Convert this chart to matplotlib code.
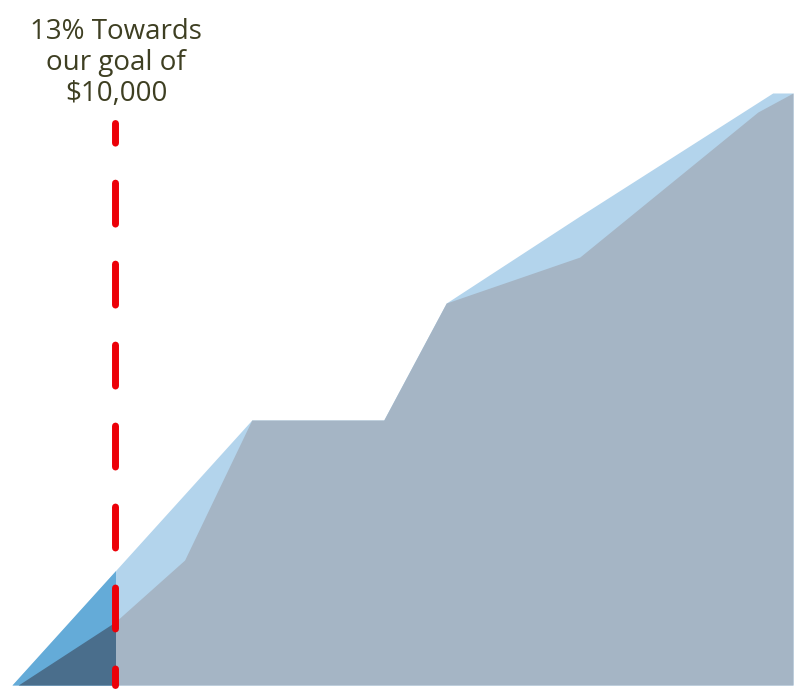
import numpy as np
import matplotlib.pyplot as plt
from matplotlib.patches import Rectangle

plt.rcParams['lines.scale_dashes'] = False

# cumulative targets vs raised (dollars), x = campaign progress (days)
target_days = [0, 30.7, 47.6, 55.6, 72.7, 97.4, 100]
target_vals = [0, 4476, 4476, 6452, 7922, 10000, 10000]

raised_days = [0.8, 13.2, 22.1, 30.7, 47.6, 55.6, 72.7, 95.5, 100]
raised_vals = [0, 1064, 2111, 4476, 4476, 6452, 7229, 9679, 10000]

today = 13.25
label = "13% Towards\nour goal of\n$10,000"

fig = plt.figure(figsize=(8, 6.96), dpi=100)
ax = fig.add_axes([12 / 800, 11 / 696, 781 / 800, 592 / 696])
ax.set_xlim(0, 100)
ax.set_ylim(0, 10000)
ax.axis("off")

# full areas
ax.fill_between(target_days, target_vals, color="#b3d4ec", lw=0)
ax.fill_between(raised_days, raised_vals, color="#a5b5c5", lw=0)

# darker part up to today
clip = Rectangle((0, 0), today, 10000, transform=ax.transData)
p1 = ax.fill_between(target_days, target_vals, color="#64abd8", lw=0)
p1.set_clip_path(clip)
p2 = ax.fill_between(raised_days, raised_vals, color="#4a6e8c", lw=0)
p2.set_clip_path(clip)

# red dashed marker
ax.axvline(today, ymin=0, ymax=(685 - 122.5) / 592, color="#ec0008", lw=5.0,
           solid_capstyle="round", dash_capstyle="round",
           linestyle=(17.6, (29.5, 28.8)), clip_on=False)

fig.text(116 / 800, 1 - 63 / 696, label, ha="center", va="center",
         fontsize=20, family="Open Sans", color="#3e3f22", linespacing=1.12)

plt.savefig("out.png")
